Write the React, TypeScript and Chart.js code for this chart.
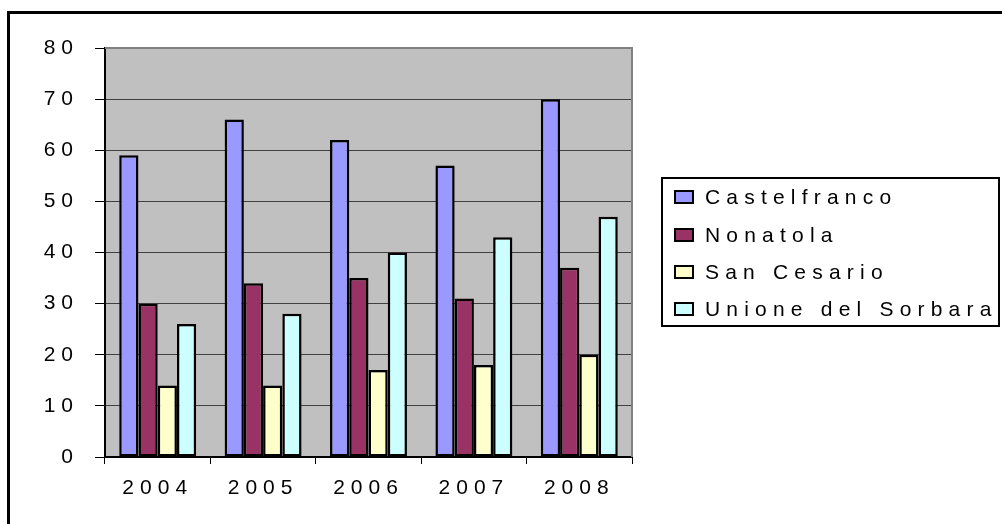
import React, { useEffect, useRef } from "react";
import { Chart, registerables } from "chart.js";

Chart.register(...registerables);

const categories = ["2004", "2005", "2006", "2007", "2008"];
const seriesNames = ["Castelfranco", "Nonatola", "San Cesario", "Unione del Sorbara"];
const castelfranco = [59, 66, 62, 57, 70];
const nonatola = [30, 34, 35, 31, 37];
const sanCesario = [14, 14, 17, 18, 20];
const unioneSorbara = [26, 28, 40, 43, 47];
const seriesColors = ["#9999FF", "#993366", "#FFFFCC", "#CCFFFF"];
const yTicks = { min: 0, max: 80, step: 10 };

const FONT = "'Liberation Sans', Arial, sans-serif";

const framePlugin = {
  id: "framePlugin",
  beforeDraw(chart: any) {
    const { ctx, chartArea } = chart;
    ctx.save();
    ctx.fillStyle = "#ffffff";
    ctx.fillRect(0, 0, chart.width, chart.height);
    // outer frame
    ctx.strokeStyle = "#000000";
    ctx.lineWidth = 3;
    ctx.beginPath();
    ctx.moveTo(8.5, chart.height + 5);
    ctx.lineTo(8.5, 12.5);
    ctx.lineTo(chart.width + 5, 12.5);
    ctx.stroke();
    // plot background
    ctx.fillStyle = "#C0C0C0";
    ctx.fillRect(chartArea.left, chartArea.top, chartArea.right - chartArea.left, chartArea.bottom - chartArea.top);
    ctx.restore();
    (ctx as any).letterSpacing = "6px";
  },
  afterDatasetsDraw(chart: any) {
    const { ctx, chartArea } = chart;
    ctx.save();
    ctx.strokeStyle = "#808080";
    ctx.lineWidth = 2;
    ctx.beginPath();
    ctx.moveTo(chartArea.left, chartArea.top);
    ctx.lineTo(chartArea.right, chartArea.top);
    ctx.lineTo(chartArea.right, chartArea.bottom);
    ctx.stroke();
    ctx.restore();
  },
  afterDraw(chart: any) {
    const { ctx } = chart;
    ctx.save();
    (ctx as any).letterSpacing = "6.2px";
    ctx.strokeStyle = "#000000";
    ctx.lineWidth = 2;
    ctx.strokeRect(662, 178, 337, 148);
    const rowsY = [197, 235, 272, 309];
    chart.data.datasets.forEach((ds: any, i: number) => {
      const y = rowsY[i];
      ctx.fillStyle = ds.backgroundColor;
      ctx.fillRect(675, y - 6, 18, 12);
      ctx.lineWidth = 2;
      ctx.strokeStyle = "#000000";
      ctx.strokeRect(675, y - 6, 18, 12);
      ctx.fillStyle = "#000000";
      ctx.font = `21px ${FONT}`;
      ctx.textBaseline = "middle";
      ctx.textAlign = "left";
      ctx.fillText(ds.label, 705, y + 1);
    });
    ctx.restore();
  },
};

export default function App() {
  const canvasRef = useRef<HTMLCanvasElement | null>(null);

  useEffect(() => {
    if (!canvasRef.current) return;
    const values = [castelfranco, nonatola, sanCesario, unioneSorbara];
    const chart = new Chart(canvasRef.current, {
      type: "bar",
      data: {
        labels: categories,
        datasets: seriesNames.map((name, i) => ({
          label: name,
          data: values[i],
          backgroundColor: seriesColors[i],
          borderColor: "#000000",
          borderWidth: 2.5,
          borderSkipped: false,
          categoryPercentage: 0.73,
          barPercentage: 1.0,
        })),
      },
      options: {
        responsive: false,
        animation: false,
        devicePixelRatio: 1,
        layout: { padding: { left: 0, top: 48, right: 370, bottom: 0 } },
        plugins: { legend: { display: false }, tooltip: { enabled: false } },
        scales: {
          x: {
            offset: true,
            afterFit: (s: any) => { s.height = 67; },
            grid: {
              offset: true,
              drawOnChartArea: false,
              drawTicks: true,
              tickLength: 7,
              color: "#000000",
              tickColor: "#000000",
            },
            border: { display: true, color: "#000000", width: 2 },
            ticks: {
              color: "#000000",
              font: { family: FONT, size: 21 },
              padding: 12,
              maxRotation: 0,
            },
          },
          y: {
            min: yTicks.min,
            max: yTicks.max,
            afterFit: (s: any) => { s.width = 105; },
            grid: {
              color: "#404040",
              lineWidth: 1,
              drawTicks: true,
              tickLength: 10,
              tickColor: "#000000",
            },
            border: { display: true, color: "#000000", width: 2 },
            ticks: {
              stepSize: yTicks.step,
              color: "#000000",
              font: { family: FONT, size: 21 },
              padding: 16,
            },
          },
        },
      },
      plugins: [framePlugin],
    });
    return () => chart.destroy();
  }, []);

  return (
    <div style={{ position: "fixed", left: 0, top: 0, width: 1002, height: 524, background: "#fff" }}>
      <canvas ref={canvasRef} width={1002} height={524} style={{ display: "block", width: 1002, height: 524 }} />
    </div>
  );
}
